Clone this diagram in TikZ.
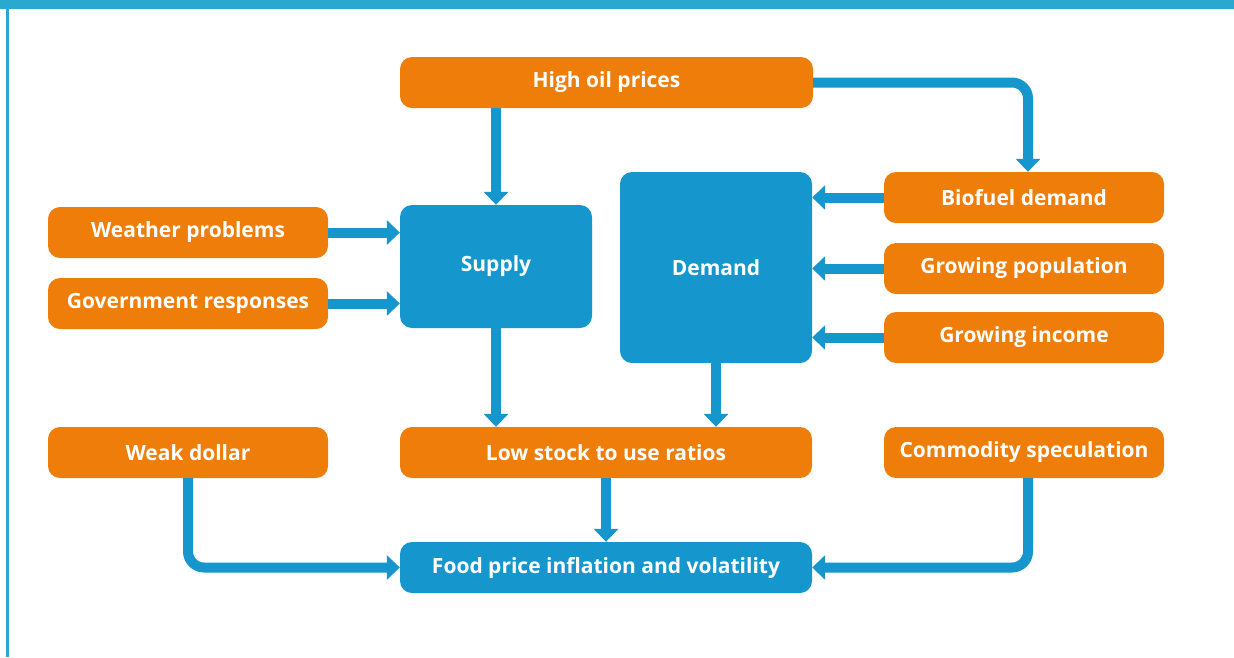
\documentclass[tikz,border=0pt]{standalone}
\usepackage{fontspec}
\setmainfont{Open Sans}
\usetikzlibrary{arrows.meta}
\definecolor{frameblue}{HTML}{2AA8CE}
\definecolor{boxorange}{HTML}{EE7D0A}
\definecolor{boxblue}{HTML}{1596CC}
\definecolor{arrowblue}{HTML}{1596CC}
\tikzset{
  obox/.style={fill=boxorange, rounded corners=12pt, text=white, font=\fontsize{21}{23}\selectfont\bfseries, inner sep=0pt, minimum height=51pt},
  bbox/.style={fill=boxblue, rounded corners=12pt, text=white, font=\fontsize{21}{23}\selectfont\bfseries, inner sep=0pt},
  flow/.style={draw=arrowblue, line width=10pt, rounded corners=16pt, -{Triangle[width=24pt,length=13pt]}}
}
\begin{document}
\begin{tikzpicture}[x=1pt,y=-1pt]
\useasboundingbox (0,0) rectangle (1234,657);
\fill[white] (0,0) rectangle (1234,657);
\fill[frameblue] (0,0) rectangle (1234,9);
\fill[frameblue] (6,0) rectangle (9,657);

\node[obox, minimum width=413pt] (hop) at (606.5,82.5) {High oil prices};
\node[bbox, minimum width=192pt, minimum height=123pt] (sup) at (496,266.5) {Supply};
\node[bbox, minimum width=192pt, minimum height=191pt] (dem) at (716,267.5) {Demand};
\node[obox, minimum width=280pt] (wea) at (188,232.5) {Weather problems};
\node[obox, minimum width=280pt] (gov) at (188,303.5) {Government responses};
\node[obox, minimum width=280pt] (bio) at (1024,197.5) {Biofuel demand};
\node[obox, minimum width=280pt] (pop) at (1024,268.5) {Growing population};
\node[obox, minimum width=280pt] (inc) at (1024,337.5) {Growing income};
\node[obox, minimum width=280pt] (wd) at (188,452.5) {Weak dollar};
\node[obox, minimum width=412pt] (low) at (606,452.5) {Low stock to use ratios};
\node[obox, minimum width=280pt] (com) at (1024,452.5) {Commodity speculation};
\node[bbox, minimum width=412pt, minimum height=51pt] (food) at (606,567.5) {Food price inflation and volatility};

\draw[flow] (hop.south -| sup.north) -- (sup.north);
\draw[flow] (hop.east) -| ([xshift=4pt]bio.north);
\draw[flow] (wea.east) -- (wea.east -| sup.west);
\draw[flow] (gov.east) -- (gov.east -| sup.west);
\draw[flow] (bio.west) -- (bio.west -| dem.east);
\draw[flow] (pop.west) -- (pop.west -| dem.east);
\draw[flow] (inc.west) -- (inc.west -| dem.east);
\draw[flow] (sup.south) -- (sup.south |- low.north);
\draw[flow] (dem.south) -- (dem.south |- low.north);
\draw[flow] (low.south) -- (food.north);
\draw[flow] (wd.south) |- (food.west);
\draw[flow] ([xshift=4pt]com.south) |- (food.east);
\end{tikzpicture}
\end{document}
